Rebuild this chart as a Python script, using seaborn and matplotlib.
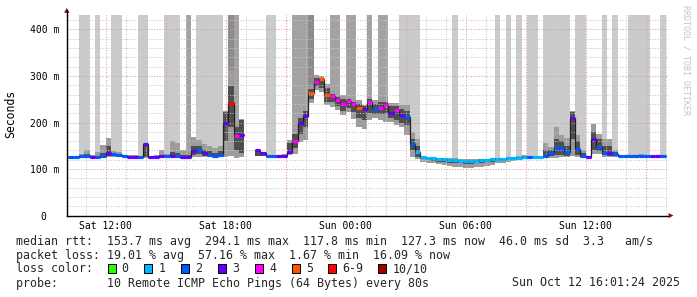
import numpy as np
import pandas as pd
import seaborn as sns
import matplotlib
matplotlib.use("Agg")
import matplotlib.pyplot as plt
import matplotlib.dates as mdates
from matplotlib.ticker import MultipleLocator, FuncFormatter
from matplotlib.patches import Rectangle, Polygon
from matplotlib.lines import Line2D

nan = np.nan
# ---------------- data (16-minute steps starting Sat 10:08) ----------------
start = "2025-10-11 10:08"
step_minutes = 16

med = [125, 125, 127, 128, 125, 126, 129, 135, 132, 130,
       127, 126, 126, 126, 153, 126, 126, 128, 128, 129,
       127, 126, 126, 139, 142, 135, 131, 127, 130, 200,
       243, 170, 174, nan, nan, 140, 134, 127, 127, 127,
       127, 137, 161, 199, 215, 264, 287, 294, 259, 257,
       248, 239, 247, 239, 231, 229, 245, 230, 231, 238,
       221, 227, 216, 212, 153, 136, 125, 124, 123, 122,
       121, 120, 119, 118, 118, 117, 118, 119, 120, 121,
       122, 122, 123, 123, 124, 125, 126, 125, 125, 129,
       134, 145, 145, 137, 209, 144, 129, 126, 165, 148,
       135, 134, 133, 128, 127, 128, 128, 128, 128, 127,
       127, 127]

loss = [2, 2, 2, 2, 3, 2, 2, 3, 2, 2,
        2, 3, 3, 2, 3, 3, 3, 3, 2, 3,
        2, 3, 3, 3, 2, 3, 2, 2, 2, 3,
        6, 4, 3, 0, 0, 3, 3, 2, 2, 3,
        3, 3, 4, 3, 3, 5, 4, 5, 5, 4,
        4, 4, 4, 4, 5, 3, 4, 2, 4, 4,
        3, 4, 3, 2, 2, 1, 1, 1, 1, 1,
        1, 1, 1, 1, 1, 1, 1, 1, 1, 1,
        1, 1, 1, 1, 1, 1, 2, 1, 1, 2,
        2, 2, 2, 2, 3, 2, 2, 3, 3, 2,
        2, 3, 2, 2, 2, 2, 2, 2, 2, 3,
        3, 2]

smoke_lo = [124, 124, 124, 124, 123, 124, 124, 126, 125, 125,
            125, 125, 125, 125, 124, 125, 125, 125, 125, 125,
            124, 124, 124, 126, 126, 126, 126, 125, 125, 125,
            128, 124, 125, nan, nan, 127, 127, 126, 126, 126,
            125, 130, 133, 158, 162, 241, 270, 266, 237, 233,
            226, 216, 222, 208, 191, 187, 205, 209, 205, 201,
            201, 194, 190, 173, 126, 122, 116, 114, 112, 110,
            108, 106, 105, 104, 103, 103, 104, 105, 107, 109,
            112, 114, 116, 118, 120, 121, 122, 123, 123, 124,
            124, 124, 125, 126, 128, 126, 125, 125, 133, 133,
            126, 126, 126, 126, 126, 126, 126, 126, 126, 126,
            126, 126]

smoke_hi = [126, 126, 132, 140, 130, 136, 151, 166, 138, 136,
            131, 130, 131, 128, 154, 128, 130, 142, 132, 160,
            155, 142, 138, 169, 162, 153, 150, 145, 150, 224,
            313, 195, 207, nan, nan, 142, 136, 129, 129, 129,
            133, 163, 187, 216, 234, 277, 302, 299, 283, 270,
            262, 259, 255, 251, 248, 237, 254, 248, 254, 254,
            241, 242, 237, 237, 180, 165, 127, 126, 125, 124,
            124, 123, 123, 122, 121, 121, 121, 122, 122, 123,
            124, 124, 126, 126, 127, 130, 129, 128, 128, 155,
            147, 190, 173, 166, 224, 173, 140, 129, 196, 175,
            164, 164, 140, 131, 129, 131, 131, 132, 130, 129,
            129, 129]

core_lo = [124, 124, 125, 126, 124, 125, 126, 129, 128, 127,
           126, 125, 125, 125, 126, 125, 125, 126, 126, 127,
           126, 125, 125, 130, 132, 129, 128, 126, 127, 160,
           190, 140, 135, nan, nan, 128, 128, 126, 126, 126,
           126, 132, 145, 175, 190, 250, 278, 275, 245, 245,
           235, 225, 232, 222, 210, 205, 220, 218, 218, 218,
           210, 205, 200, 195, 140, 126, 121, 119, 117, 116,
           115, 114, 113, 112, 111, 111, 112, 113, 115, 116,
           118, 119, 120, 121, 122, 123, 124, 124, 124, 126,
           127, 130, 130, 128, 164, 130, 126, 125, 140, 138,
           130, 128, 128, 127, 126, 127, 127, 127, 127, 126,
           126, 126]

core_hi = [126, 126, 128, 132, 127, 128, 134, 150, 134, 132,
           128, 127, 127, 127, 153, 127, 128, 131, 130, 136,
           134, 130, 130, 150, 150, 142, 138, 135, 138, 222,
           278, 190, 205, nan, nan, 141, 135, 128, 128, 128,
           130, 155, 175, 210, 225, 272, 295, 295, 275, 262,
           255, 250, 250, 245, 240, 235, 250, 240, 245, 245,
           235, 235, 228, 225, 165, 150, 126, 125, 124, 123,
           122, 121, 121, 120, 120, 119, 120, 121, 121, 122,
           123, 123, 124, 124, 125, 127, 127, 126, 126, 140,
           140, 165, 160, 150, 222, 160, 135, 127, 180, 165,
           150, 150, 136, 130, 128, 130, 130, 130, 129, 128,
           128, 128]

# lost-ping column shading: 0 none, 1 light, 2 medium, 3 dark
lost_bar = [0, 0, 1, 1, 0, 1, 0, 0, 1, 1,
            0, 0, 0, 1, 1, 0, 0, 0, 1, 1,
            1, 0, 2, 0, 1, 1, 1, 1, 1, 0,
            3, 2, 0, 0, 0, 0, 0, 1, 1, 0,
            0, 0, 2, 2, 2, 3, 0, 0, 0, 2,
            2, 0, 2, 2, 0, 0, 2, 0, 2, 2,
            0, 0, 1, 1, 1, 1, 0, 0, 0, 0,
            0, 0, 1, 0, 0, 0, 0, 0, 0, 0,
            1, 0, 1, 0, 1, 0, 1, 1, 0, 1,
            1, 1, 1, 1, 0, 1, 1, 0, 0, 0,
            1, 0, 1, 0, 0, 1, 1, 1, 1, 0,
            0, 1]

loss_colors = ["#26ff00", "#00b8ff", "#0059ff", "#5e00ff",
               "#ff00ff", "#ff5500", "#ff0000", "#a10000"]
loss_labels = ["0", "1", "2", "3", "4", "5", "6-9", "10/10"]
bar_shades = {1: "#cbcbcb", 2: "#a3a3a3", 3: "#8c8c8c"}

y_ticks = [0, 100, 200, 300, 400]
y_tick_labels = ["0  ", "100 m", "200 m", "300 m", "400 m"]

row1 = "median rtt:  153.7 ms avg  294.1 ms max  117.8 ms min  127.3 ms now  46.0 ms sd  3.3   am/s"
row2 = "packet loss: 19.01 % avg  57.16 % max  1.67 % min  16.09 % now"
row3 = "loss color:"
row4 = "probe:       10 Remote ICMP Echo Pings (64 Bytes) every 80s"
stamp = "Sun Oct 12 16:01:24 2025"

# ---------------- figure ----------------
sns.set_style("white")
plt.rcParams["font.family"] = ["DejaVu Sans Mono"]

W, H = 697, 297
fig = plt.figure(figsize=(W / 100, H / 100), dpi=100)
fig.patch.set_facecolor("white")

def fx(px):
    return px / W

def fy(py):
    return 1 - py / H

ax_left, ax_right, ax_top, ax_bot = 66.7, 668.5, 15.0, 215.6
ax = fig.add_axes([fx(ax_left), fy(ax_bot), (ax_right - ax_left) / W, (ax_bot - ax_top) / H])
ax.set_facecolor("white")

times = pd.date_range(start, periods=len(med), freq=f"{step_minutes}min")
t = mdates.date2num(times.to_pydatetime())
w = step_minutes / 1440.0
ytop = 431

df = pd.DataFrame({"t": t, "med": med, "loss": loss, "lo": smoke_lo, "hi": smoke_hi,
                   "clo": core_lo, "chi": core_hi, "bar": lost_bar})

# lost ping columns
for level, col in bar_shades.items():
    sub = df[df["bar"] == level]
    ax.bar(sub["t"], ytop - sub["lo"], bottom=sub["lo"], width=w, align="edge",
           color=col, linewidth=0, zorder=1)

valid = df.dropna(subset=["med"])
ax.bar(valid["t"], valid["hi"] - valid["lo"], bottom=valid["lo"], width=w, align="edge",
       color="#9c9c9c", linewidth=0, zorder=1.1)
ax.bar(valid["t"], valid["chi"] - valid["clo"], bottom=valid["clo"], width=w, align="edge",
       color="#4e4e4e", linewidth=0, zorder=1.2)

# black median step line, per contiguous run
isn = df["med"].isna().values
runs = []
cur = []
for i in range(len(df)):
    if isn[i]:
        if cur:
            runs.append(cur)
        cur = []
    else:
        cur.append(i)
if cur:
    runs.append(cur)
for r in runs:
    xs = list(df["t"].iloc[r]) + [df["t"].iloc[r[-1]] + w]
    ys = list(df["med"].iloc[r]) + [df["med"].iloc[r[-1]]]
    seg = pd.DataFrame({"x": xs, "y": ys})
    sns.lineplot(data=seg, x="x", y="y", ax=ax, estimator=None, sort=False,
                 drawstyle="steps-post", color="#202020", linewidth=0.9, zorder=3)

# coloured median segments
for li, col in enumerate(loss_colors):
    sub = valid[valid["loss"] == li]
    if len(sub):
        ax.hlines(sub["med"], sub["t"], sub["t"] + w, colors=col, linewidth=2.3,
                  zorder=3.5, capstyle="butt")

# axes limits
x0 = mdates.date2num(pd.Timestamp("2025-10-11 10:03").to_pydatetime())
x1 = mdates.date2num(pd.Timestamp("2025-10-12 16:08:24").to_pydatetime())
ax.set_xlim(x0, x1)
ax.set_ylim(0, ytop)
ax.set_xlabel("")
ax.set_ylabel("")

# grid
ax.xaxis.set_major_locator(mdates.HourLocator(byhour=range(0, 24, 3)))
ax.xaxis.set_minor_locator(mdates.HourLocator())
def xfmt(v, pos):
    d = mdates.num2date(v)
    return d.strftime("%a %H:%M") if d.hour % 6 == 0 else ""
ax.xaxis.set_major_formatter(FuncFormatter(xfmt))
ax.yaxis.set_major_locator(MultipleLocator(100))
ax.yaxis.set_minor_locator(MultipleLocator(20))
ax.set_yticks(y_ticks)
ax.set_yticklabels(y_tick_labels)
ax.set_axisbelow(False)
ax.grid(which="minor", color="#c6c6c6", linestyle=(0, (1, 1.6)), linewidth=0.75)
ax.grid(which="major", color="#e49a9a", linestyle=(0, (1, 1.6)), linewidth=0.75)

ax.tick_params(axis="both", which="both", direction="inout", color="#555555", width=0.7)
ax.tick_params(axis="both", which="major", length=4, labelsize=7, labelcolor="#000000")
ax.tick_params(axis="both", which="minor", length=3)
ax.tick_params(axis="y", which="major", pad=3.5)
ax.tick_params(axis="x", which="major", pad=2.0)

for s in ["top", "right"]:
    ax.spines[s].set_visible(False)
for s in ["left", "bottom"]:
    ax.spines[s].set_color("#000000")
    ax.spines[s].set_linewidth(1.0)
    ax.spines[s].set_zorder(4)

# axis extensions and arrows
fig.add_artist(Line2D([fx(ax_left), fx(ax_left)], [fy(ax_top), fy(10)], color="#000000",
                      linewidth=1.0, transform=fig.transFigure))
fig.add_artist(Polygon([[fx(ax_left - 2.6), fy(12.8)], [fx(ax_left + 2.6), fy(12.8)],
                        [fx(ax_left), fy(7.8)]], closed=True, transform=fig.transFigure,
                       facecolor="#8b1010", edgecolor="none"))
fig.add_artist(Polygon([[fx(668.5), fy(ax_bot - 2.6)], [fx(668.5), fy(ax_bot + 2.6)],
                        [fx(673.5), fy(ax_bot)]], closed=True, transform=fig.transFigure,
                       facecolor="#8b1010", edgecolor="none"))

# unit label and watermark
fig.text(fx(10.5), fy(114), "Seconds", rotation=90, ha="center", va="center",
         fontsize=8.3, color="#000000")
fig.text(fx(686), fy(60), "RRDTOOL / TOBI OETIKER", rotation=270, ha="center",
         va="center", fontsize=6, color="#c4c4c4")

# legend rows
fs = 8.4
cw = 7.05
base = [244.5, 258.5, 272.5, 286.5]
fig.text(fx(16), fy(base[0]), row1, fontsize=fs, va="baseline", ha="left")
fig.text(fx(16), fy(base[1]), row2, fontsize=fs, va="baseline", ha="left")
fig.text(fx(16), fy(base[2]), row3, fontsize=fs, va="baseline", ha="left")
fig.text(fx(16), fy(base[3]), row4, fontsize=fs, va="baseline", ha="left")
fig.text(fx(680), fy(base[3]), stamp, fontsize=fs, va="baseline", ha="right")

sq_cols = [13, 18.2, 23.4, 28.7, 33.9, 39.1, 44.3, 51.4]
for col, c, lab in zip(sq_cols, loss_colors, loss_labels):
    px = 16 + col * cw
    fig.add_artist(Rectangle((fx(px), fy(base[2])), 8 / W, 9 / H, transform=fig.transFigure,
                             facecolor=c, edgecolor="#000000", linewidth=0.7))
    fig.text(fx(px + 2 * cw), fy(base[2]), lab, fontsize=fs, va="baseline", ha="left")

fig.savefig("out.png", dpi=100, facecolor="white")
